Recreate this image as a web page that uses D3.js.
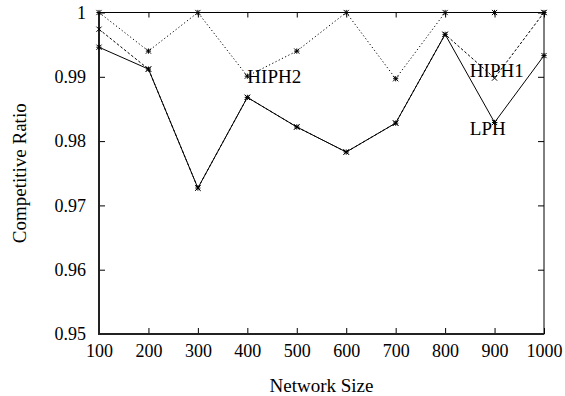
<!DOCTYPE html>
<html>
<head>
<meta charset="utf-8">
<script src="https://cdn.jsdelivr.net/npm/d3@7"></script>
<style>
html,body{margin:0;padding:0;background:#fff;}
svg{display:block;}
text{font-family:"Liberation Serif","Times New Roman",serif;fill:#000;}
</style>
</head>
<body>
<svg id="chart" width="565" height="396"></svg>
<script>
const networkSizes = [100, 200, 300, 400, 500, 600, 700, 800, 900, 1000];
const lphValues   = [0.9946, 0.9912, 0.9727, 0.9868, 0.9822, 0.9783, 0.9828, 0.9966, 0.9829, 0.9933];
const hiph1Values = [0.9974, 0.9912, 0.9727, 0.9868, 0.9822, 0.9783, 0.9828, 0.9966, 0.9898, 1.0000];
const hiph2Values = [1.0000, 0.9940, 1.0000, 0.9901, 0.9940, 1.0000, 0.9897, 1.0000, 1.0000, 1.0000];
const yTicks = [0.95, 0.96, 0.97, 0.98, 0.99, 1];
const yTickLabels = ["0.95", "0.96", "0.97", "0.98", "0.99", "1"];
const labels = [
  {text: "HIPH2", x: 400, y: 0.9900},
  {text: "HIPH1", x: 850, y: 0.9910},
  {text: "LPH",   x: 850, y: 0.9820}
];

const svg = d3.select("#chart");
const m = {left: 99, right: 544, top: 12.5, bottom: 334};
const x = d3.scaleLinear().domain([100, 1000]).range([m.left, m.right]);
const y = d3.scaleLinear().domain([0.95, 1]).range([m.bottom, m.top]);

const series = [
  {values: hiph2Values, dash: "1.2,2.4", marker: "star"},
  {values: hiph1Values, dash: "2.6,2", marker: "x"},
  {values: lphValues, dash: null, marker: "star"}
];

// axes
const gBottom = svg.append("g").attr("transform", `translate(0,${m.bottom})`)
  .call(d3.axisBottom(x).tickValues(networkSizes).tickFormat(d3.format("d")).tickSizeInner(-6).tickSizeOuter(0).tickPadding(10));
const gTop = svg.append("g").attr("transform", `translate(0,${m.top})`)
  .call(d3.axisTop(x).tickValues(networkSizes).tickFormat("").tickSizeInner(-5).tickSizeOuter(0));
const gLeft = svg.append("g").attr("transform", `translate(${m.left},0)`)
  .call(d3.axisLeft(y).tickValues(yTicks).tickFormat((d,i)=>yTickLabels[i]).tickSizeInner(-6).tickSizeOuter(0).tickPadding(13));
const gRight = svg.append("g").attr("transform", `translate(${m.right},0)`)
  .call(d3.axisRight(y).tickValues(yTicks).tickFormat("").tickSizeInner(-6).tickSizeOuter(0));

[gBottom, gTop, gLeft, gRight].forEach(g => {
  g.select(".domain").remove();
  g.selectAll(".tick line").attr("stroke", "#000").attr("stroke-width", 1);
  g.selectAll("text").attr("font-size", 18).attr("font-family", "Liberation Serif").attr("fill", "#000");
});
gBottom.selectAll("text").attr("dy", "0.71em");

// border
svg.append("rect").attr("x", m.left).attr("y", m.top)
  .attr("width", m.right - m.left).attr("height", m.bottom - m.top)
  .attr("fill", "none").attr("stroke", "#000").attr("stroke-width", 1);
svg.append("line").attr("x1", m.left).attr("x2", m.left).attr("y1", m.top).attr("y2", m.bottom + 1)
  .attr("stroke", "#222").attr("stroke-width", 2);
svg.append("line").attr("x1", m.left).attr("x2", m.right).attr("y1", m.bottom).attr("y2", m.bottom)
  .attr("stroke", "#222").attr("stroke-width", 2);

// lines
const line = d3.line().x((d,i) => x(networkSizes[i])).y(d => y(d));
series.forEach(s => {
  svg.append("path").datum(s.values).attr("d", line)
    .attr("fill", "none").attr("stroke", "#000").attr("stroke-width", 1)
    .attr("stroke-dasharray", s.dash);
});

// markers
const r = 2.6;
series.forEach(s => {
  const g = svg.append("g");
  s.values.forEach((v, i) => {
    const cx = x(networkSizes[i]), cy = y(v);
    let d = `M${cx-r},${cy-r}L${cx+r},${cy+r}M${cx-r},${cy+r}L${cx+r},${cy-r}`;
    if (s.marker === "star") d += `M${cx-r},${cy}L${cx+r},${cy}M${cx},${cy-r}L${cx},${cy+r}`;
    g.append("path").attr("d", d).attr("stroke", "#000").attr("stroke-width", 1).attr("fill", "none");
  });
});

// labels
svg.selectAll(".lbl").data(labels).enter().append("text")
  .attr("x", d => x(d.x)).attr("y", d => y(d.y)).attr("dy", "0.35em")
  .attr("font-size", 19).text(d => d.text);

// axis titles
svg.append("text").attr("x", (m.left + m.right) / 2).attr("y", 392)
  .attr("text-anchor", "middle").attr("font-size", 19).text("Network Size");
svg.append("text").attr("transform", `translate(26,${(m.top + m.bottom) / 2}) rotate(-90)`)
  .attr("text-anchor", "middle").attr("font-size", 19).text("Competitive Ratio");
</script>
</body>
</html>
